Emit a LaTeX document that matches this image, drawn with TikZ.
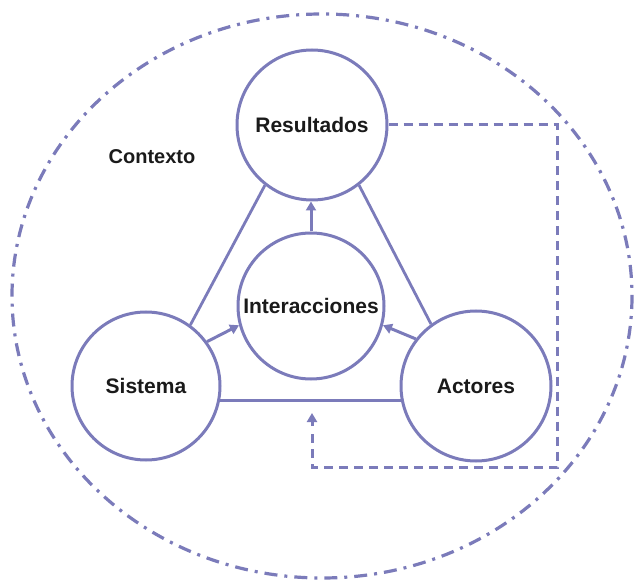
\documentclass[tikz,border=0pt]{standalone}
\usepackage{fontspec}
\setmainfont{Liberation Sans}
\usetikzlibrary{arrows.meta}
\definecolor{lc}{HTML}{7B7BBA}
\definecolor{tc}{HTML}{1A1A1A}
\tikzset{
  bub/.style={circle,draw=lc,line width=3pt,fill=white,inner sep=0pt,font=\bfseries\fontsize{21}{25}\selectfont,text=tc},
  link/.style={draw=lc,line width=2.8pt},
  arr/.style={draw=lc,line width=3pt,-{Triangle[length=9pt,width=10pt]}},
  dashedlink/.style={draw=lc,line width=3pt,dash pattern=on 9pt off 6pt},
  ctx/.style={draw=lc,line width=3.2pt,dash pattern=on 13pt off 7pt on 3pt off 7pt},
}
\begin{document}
\begin{tikzpicture}[x=1pt,y=-1pt]
\useasboundingbox (0,0) rectangle (635,580);
\draw[ctx] (322,296) ellipse [x radius=310, y radius=282];
\node[font=\bfseries\fontsize{20}{24}\selectfont,text=tc] (ctxlabel) at (152,157) {Contexto};
\node[bub,minimum size=150pt] (res) at (312,125) {Resultados};
\node[bub,minimum size=146pt] (int) at (311,306) {Interacciones};
\node[bub,minimum size=148pt] (sis) at (146,386) {Sistema};
\node[bub,minimum size=150pt] (act) at (476,386) {Actores};
\draw[link] (res.232) -- (sis.54);
\draw[link] (res.308) -- (act.126);
\draw[link] (sis.-11) -- (act.191);
\draw[arr] (int.90) -- (int.90 |- res.270);
\draw[arr] (sis.36) -- (int.195);
\draw[arr] (act.142) -- (int.-15);
\coordinate (d1) at (557,125);
\coordinate (d2) at (557,467);
\coordinate (d3) at (312,467);
\coordinate (d4) at (312,413);
\draw[dashedlink] (res.east) -- (d1) -- (d2) -- (d3) -- (312,428);
\draw[arr] (312,426) -- (d4);
\end{tikzpicture}
\end{document}
